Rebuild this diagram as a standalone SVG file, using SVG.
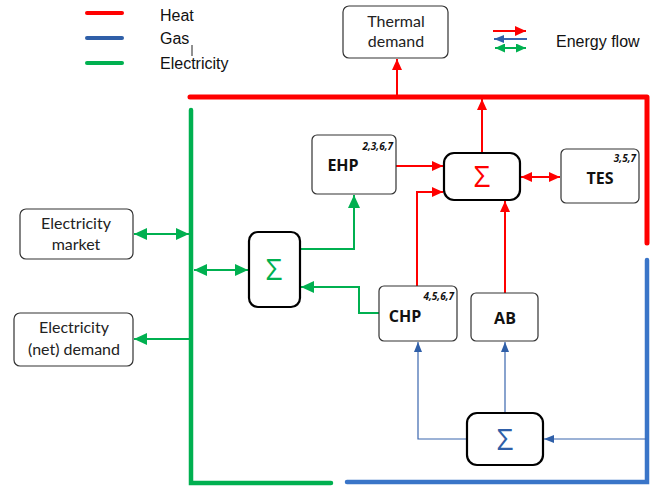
<svg xmlns="http://www.w3.org/2000/svg" width="661" height="486" viewBox="0 0 661 486">
<style>
.box{fill:#fff;stroke:#333;stroke-width:1.2}
.sbox{fill:#fff;stroke:#000;stroke-width:2.2}
.t{font-family:Lato,"Open Sans","Liberation Sans",sans-serif;font-size:16px;fill:#222;text-anchor:middle}
.b{font-family:"Open Sans","Liberation Sans",sans-serif;font-size:16px;font-weight:bold;fill:#111;text-anchor:middle}
.n{font-family:"Open Sans","Liberation Sans",sans-serif;font-size:10px;font-weight:bold;font-style:italic;fill:#111;text-anchor:end}
.lg{font-family:"Liberation Sans",Arial,sans-serif;font-size:16px;fill:#111}
.sig{font-family:"Open Sans","Liberation Sans",sans-serif;font-size:29px;text-anchor:middle}
.red{stroke:#FF0000;fill:none;stroke-width:2}
.grn{stroke:#00B050;fill:none;stroke-width:2}
.blu{stroke:#3A66AE;fill:none;stroke-width:1.2}
</style>
<defs>
<marker id="ar" markerUnits="userSpaceOnUse" markerWidth="11" markerHeight="10" refX="11" refY="5" orient="auto-start-reverse"><path d="M0,0 L11,5 L0,10 z" fill="#FF0000"/></marker>
<marker id="ag" markerUnits="userSpaceOnUse" markerWidth="13" markerHeight="12" refX="13" refY="6" orient="auto-start-reverse"><path d="M0,0 L13,6 L0,12 z" fill="#00B050"/></marker>
<marker id="ags" markerUnits="userSpaceOnUse" markerWidth="10" markerHeight="9" refX="10" refY="4.5" orient="auto-start-reverse"><path d="M0,0 L10,4.5 L0,9 z" fill="#00B050"/></marker>
<marker id="ab" markerUnits="userSpaceOnUse" markerWidth="10" markerHeight="8" refX="10" refY="4" orient="auto-start-reverse"><path d="M0,0 L10,4 L0,8 z" fill="#2F5FA8"/></marker>
</defs>

<g id="legend">
<line x1="87" y1="13" x2="122" y2="13" stroke="#FF0000" stroke-width="4" stroke-linecap="round"/>
<line x1="87" y1="38" x2="122" y2="38" stroke="#2F5FA8" stroke-width="4" stroke-linecap="round"/>
<line x1="87" y1="63" x2="122" y2="63" stroke="#00B050" stroke-width="4" stroke-linecap="round"/>
<text class="lg" x="160" y="21">Heat</text>
<text class="lg" x="160" y="44">Gas</text>
<line x1="192" y1="45" x2="192" y2="56" stroke="#222" stroke-width="1"/>
<text class="lg" x="160" y="69">Electricity</text>
<line x1="493" y1="31" x2="526" y2="31" class="red" stroke-width="1.5" marker-end="url(#ar)"/>
<line x1="527" y1="39" x2="494" y2="39" stroke="#3A66AE" stroke-width="2" marker-end="url(#ab)"/>
<line x1="495" y1="48" x2="526" y2="48" stroke="#00B050" stroke-width="2" marker-start="url(#ags)" marker-end="url(#ags)"/>
<text class="lg" x="556" y="47">Energy flow</text>
</g>

<g id="buses">
<polyline points="190,97 647,97 647,243" fill="none" stroke="#FF0000" stroke-width="5" stroke-linecap="round" stroke-linejoin="round"/>
<polyline points="191,110 191,483 331,483" fill="none" stroke="#00B050" stroke-width="4.5" stroke-linecap="round"/>
<polyline points="347,482 647,482 647,260" fill="none" stroke="#3A75C8" stroke-width="4.5" stroke-linecap="round"/>
</g>

<g id="connectors">
<line x1="397" y1="97" x2="397" y2="59" class="red" marker-end="url(#ar)"/>
<line x1="482" y1="153" x2="482" y2="99" class="red" stroke-width="1.5" marker-end="url(#ar)"/>
<line x1="396" y1="166" x2="443" y2="166" class="red" marker-end="url(#ar)"/>
<polyline points="417,286 417,192 443,192" class="red" marker-end="url(#ar)"/>
<line x1="505" y1="293" x2="505" y2="201" class="red" marker-end="url(#ar)"/>
<line x1="521" y1="177" x2="560" y2="177" class="red" marker-start="url(#ar)" marker-end="url(#ar)"/>

<line x1="134" y1="234" x2="189" y2="234" class="grn" marker-start="url(#ag)" marker-end="url(#ag)"/>
<line x1="189" y1="339" x2="134" y2="339" class="grn" marker-end="url(#ag)"/>
<line x1="194" y1="270" x2="248" y2="270" class="grn" marker-start="url(#ag)" marker-end="url(#ag)"/>
<polyline points="300,249 354,249 354,195" class="grn" marker-end="url(#ag)"/>
<polyline points="379,313 359,313 359,287 301,287" class="grn" marker-end="url(#ag)"/>

<line x1="646" y1="439" x2="544" y2="439" class="blu" marker-end="url(#ab)"/>
<polyline points="467,439 418,439 418,342" class="blu" marker-end="url(#ab)"/>
<line x1="505" y1="413" x2="505" y2="342" class="blu" marker-end="url(#ab)"/>
</g>

<g id="thermal-demand">
<rect class="box" x="343" y="6" width="105" height="52" rx="6"/>
<text class="t" x="396" y="27">Thermal</text>
<text class="t" x="396" y="47">demand</text>
</g>

<g id="electricity-market">
<rect class="box" x="20" y="209" width="113" height="50" rx="6"/>
<text class="t" x="76" y="229">Electricity</text>
<text class="t" x="76" y="250">market</text>
</g>

<g id="electricity-demand">
<rect class="box" x="14" y="313" width="119" height="53" rx="6"/>
<text class="t" x="74" y="333">Electricity</text>
<text class="t" x="74" y="355">(net) demand</text>
</g>

<g id="sum-elec">
<rect class="sbox" x="249" y="232" width="51" height="75" rx="9"/>
<text class="sig" x="274" y="280" fill="#00B050">Σ</text>
</g>

<g id="ehp">
<rect class="box" x="312" y="135" width="84" height="59" rx="5"/>
<text class="n" x="393" y="150">2,3,6,7</text>
<text class="b" x="343" y="171">EHP</text>
</g>

<g id="sum-heat">
<rect class="sbox" x="444" y="153" width="76" height="47" rx="10"/>
<text class="sig" x="482" y="187" fill="#FF0000">Σ</text>
</g>

<g id="tes">
<rect class="box" x="561" y="149" width="78" height="54" rx="5"/>
<text class="n" x="636" y="162">3,5,7</text>
<text class="b" x="600" y="184">TES</text>
</g>

<g id="chp">
<rect class="box" x="379" y="286" width="78" height="55" rx="5"/>
<text class="n" x="454" y="300">4,5,6,7</text>
<text class="b" x="405" y="322">CHP</text>
</g>

<g id="ab-node">
<rect class="box" x="471" y="293" width="67" height="48" rx="5"/>
<text class="b" x="505" y="324">AB</text>
</g>

<g id="sum-gas">
<rect class="sbox" x="467" y="413" width="76" height="52" rx="10"/>
<text class="sig" x="505" y="450" fill="#2F5FA8">Σ</text>
</g>
</svg>
